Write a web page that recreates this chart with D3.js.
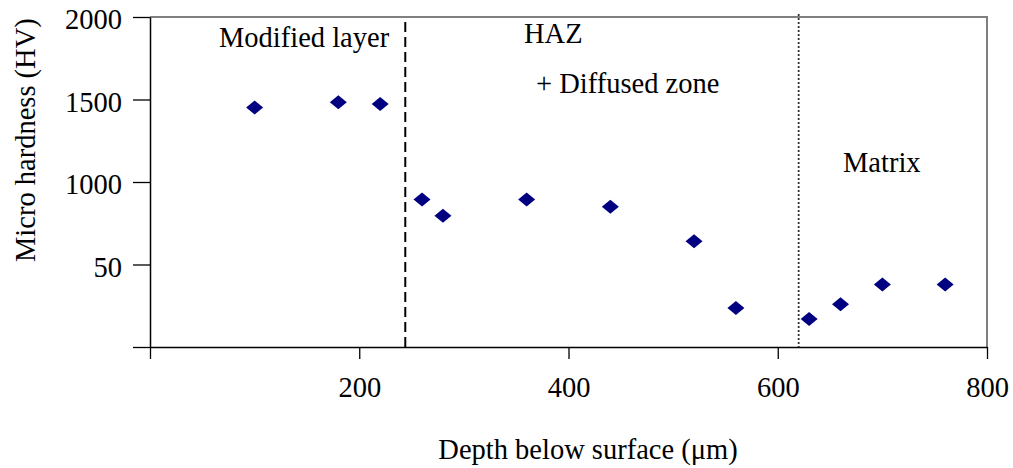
<!DOCTYPE html>
<html>
<head>
<meta charset="utf-8">
<script src="https://cdnjs.cloudflare.com/ajax/libs/d3/7.8.5/d3.min.js"></script>
<style>
  body { margin: 0; background: #fff; }
  svg text { font-family: "Liberation Serif", "Times New Roman", serif; fill: #000; }
</style>
</head>
<body>
<div id="chart"></div>
<script>
// depth (um) and micro hardness (HV)
var depth = [100, 180, 220, 260, 280, 360, 440, 520, 560, 630, 660, 700, 760];
var hardness = [1452, 1483, 1473, 894, 795, 894, 850, 641, 237, 170, 259, 379, 379];

var xTicks = [0, 200, 400, 600, 800];
var xTickLabels = ["", "200", "400", "600", "800"];
var yTicks = [0, 500, 1000, 1500, 2000];
var yTickLabels = ["", "50", "1000", "1500", "2000"];

// zone boundaries (um)
var boundaries = [244, 620];
var zoneLabels = ["Modified layer", "HAZ", "+ Diffused zone", "Matrix"];

var W = 1013, H = 468;
var fontSize = 28.5;

var svg = d3.select("#chart").append("svg")
    .attr("width", W)
    .attr("height", H);

var x = d3.scaleLinear().domain([0, 800]).range([150, 987]);
var y = d3.scaleLinear().domain([0, 2000]).range([347, 17]);

// grey frame on top and right
svg.append("path")
    .attr("d", "M" + x(0) + "," + y(2000) + "H" + x(800) + "V" + y(0))
    .attr("fill", "none")
    .attr("stroke", "#808080")
    .attr("stroke-width", 2);

// y axis
var yAxis = svg.append("g")
    .attr("transform", "translate(" + x(0) + ",0)")
    .call(d3.axisLeft(y)
        .tickValues(yTicks)
        .tickSize(17)
        .tickSizeOuter(0)
        .tickFormat(function(d, i) { return yTickLabels[i]; }));
yAxis.select(".domain").attr("stroke", "#000").attr("stroke-width", 1.5);
yAxis.selectAll(".tick line").attr("stroke", "#000").attr("stroke-width", 1.3);
yAxis.selectAll(".tick text")
    .attr("x", -28)
    .attr("dy", "11.5")
    .style("font-size", fontSize + "px")
    .style("font-family", "'Liberation Serif', serif");

// x axis
var xAxis = svg.append("g")
    .attr("transform", "translate(0," + y(0) + ")")
    .call(d3.axisBottom(x)
        .tickValues(xTicks)
        .tickSize(12)
        .tickSizeOuter(0)
        .tickFormat(function(d, i) { return xTickLabels[i]; }));
xAxis.select(".domain").attr("stroke", "#000").attr("stroke-width", 1.5);
xAxis.selectAll(".tick line").attr("stroke", "#000").attr("stroke-width", 1.3);
xAxis.selectAll(".tick text")
    .attr("y", 50)
    .attr("dy", 0)
    .style("font-size", fontSize + "px")
    .style("font-family", "'Liberation Serif', serif");

// boundary lines
svg.append("line")
    .attr("x1", x(boundaries[0])).attr("x2", x(boundaries[0]))
    .attr("y1", 22).attr("y2", y(0))
    .attr("stroke", "#000")
    .attr("stroke-width", 2)
    .attr("stroke-dasharray", "10,5");

svg.append("line")
    .attr("x1", x(boundaries[1])).attr("x2", x(boundaries[1]))
    .attr("y1", 14).attr("y2", y(0))
    .attr("stroke", "#333")
    .attr("stroke-width", 1.8)
    .attr("stroke-dasharray", "2,2");

// zone labels
var labelPos = [[219, 47], [524, 43], [536, 93], [843, 172]];
svg.selectAll(".zone")
    .data(zoneLabels)
    .enter().append("text")
    .attr("class", "zone")
    .attr("x", function(d, i) { return labelPos[i][0]; })
    .attr("y", function(d, i) { return labelPos[i][1]; })
    .style("font-size", fontSize + "px")
    .text(function(d) { return d; });

// diamond markers
var diamond = "M0,-7L8.5,0L0,7L-8.5,0Z";
svg.selectAll(".pt")
    .data(depth)
    .enter().append("path")
    .attr("class", "pt")
    .attr("d", diamond)
    .attr("fill", "#000080")
    .attr("transform", function(d, i) {
        return "translate(" + x(d) + "," + y(hardness[i]) + ")";
    });

// axis titles
svg.append("text")
    .attr("x", 588)
    .attr("y", 459)
    .attr("text-anchor", "middle")
    .style("font-size", fontSize + "px")
    .text("Depth below surface (\u03bcm)");

svg.append("text")
    .attr("transform", "translate(35,262) rotate(-90)")
    .attr("text-anchor", "start")
    .style("font-size", fontSize + "px")
    .text("Micro hardness (HV)");
</script>
</body>
</html>
